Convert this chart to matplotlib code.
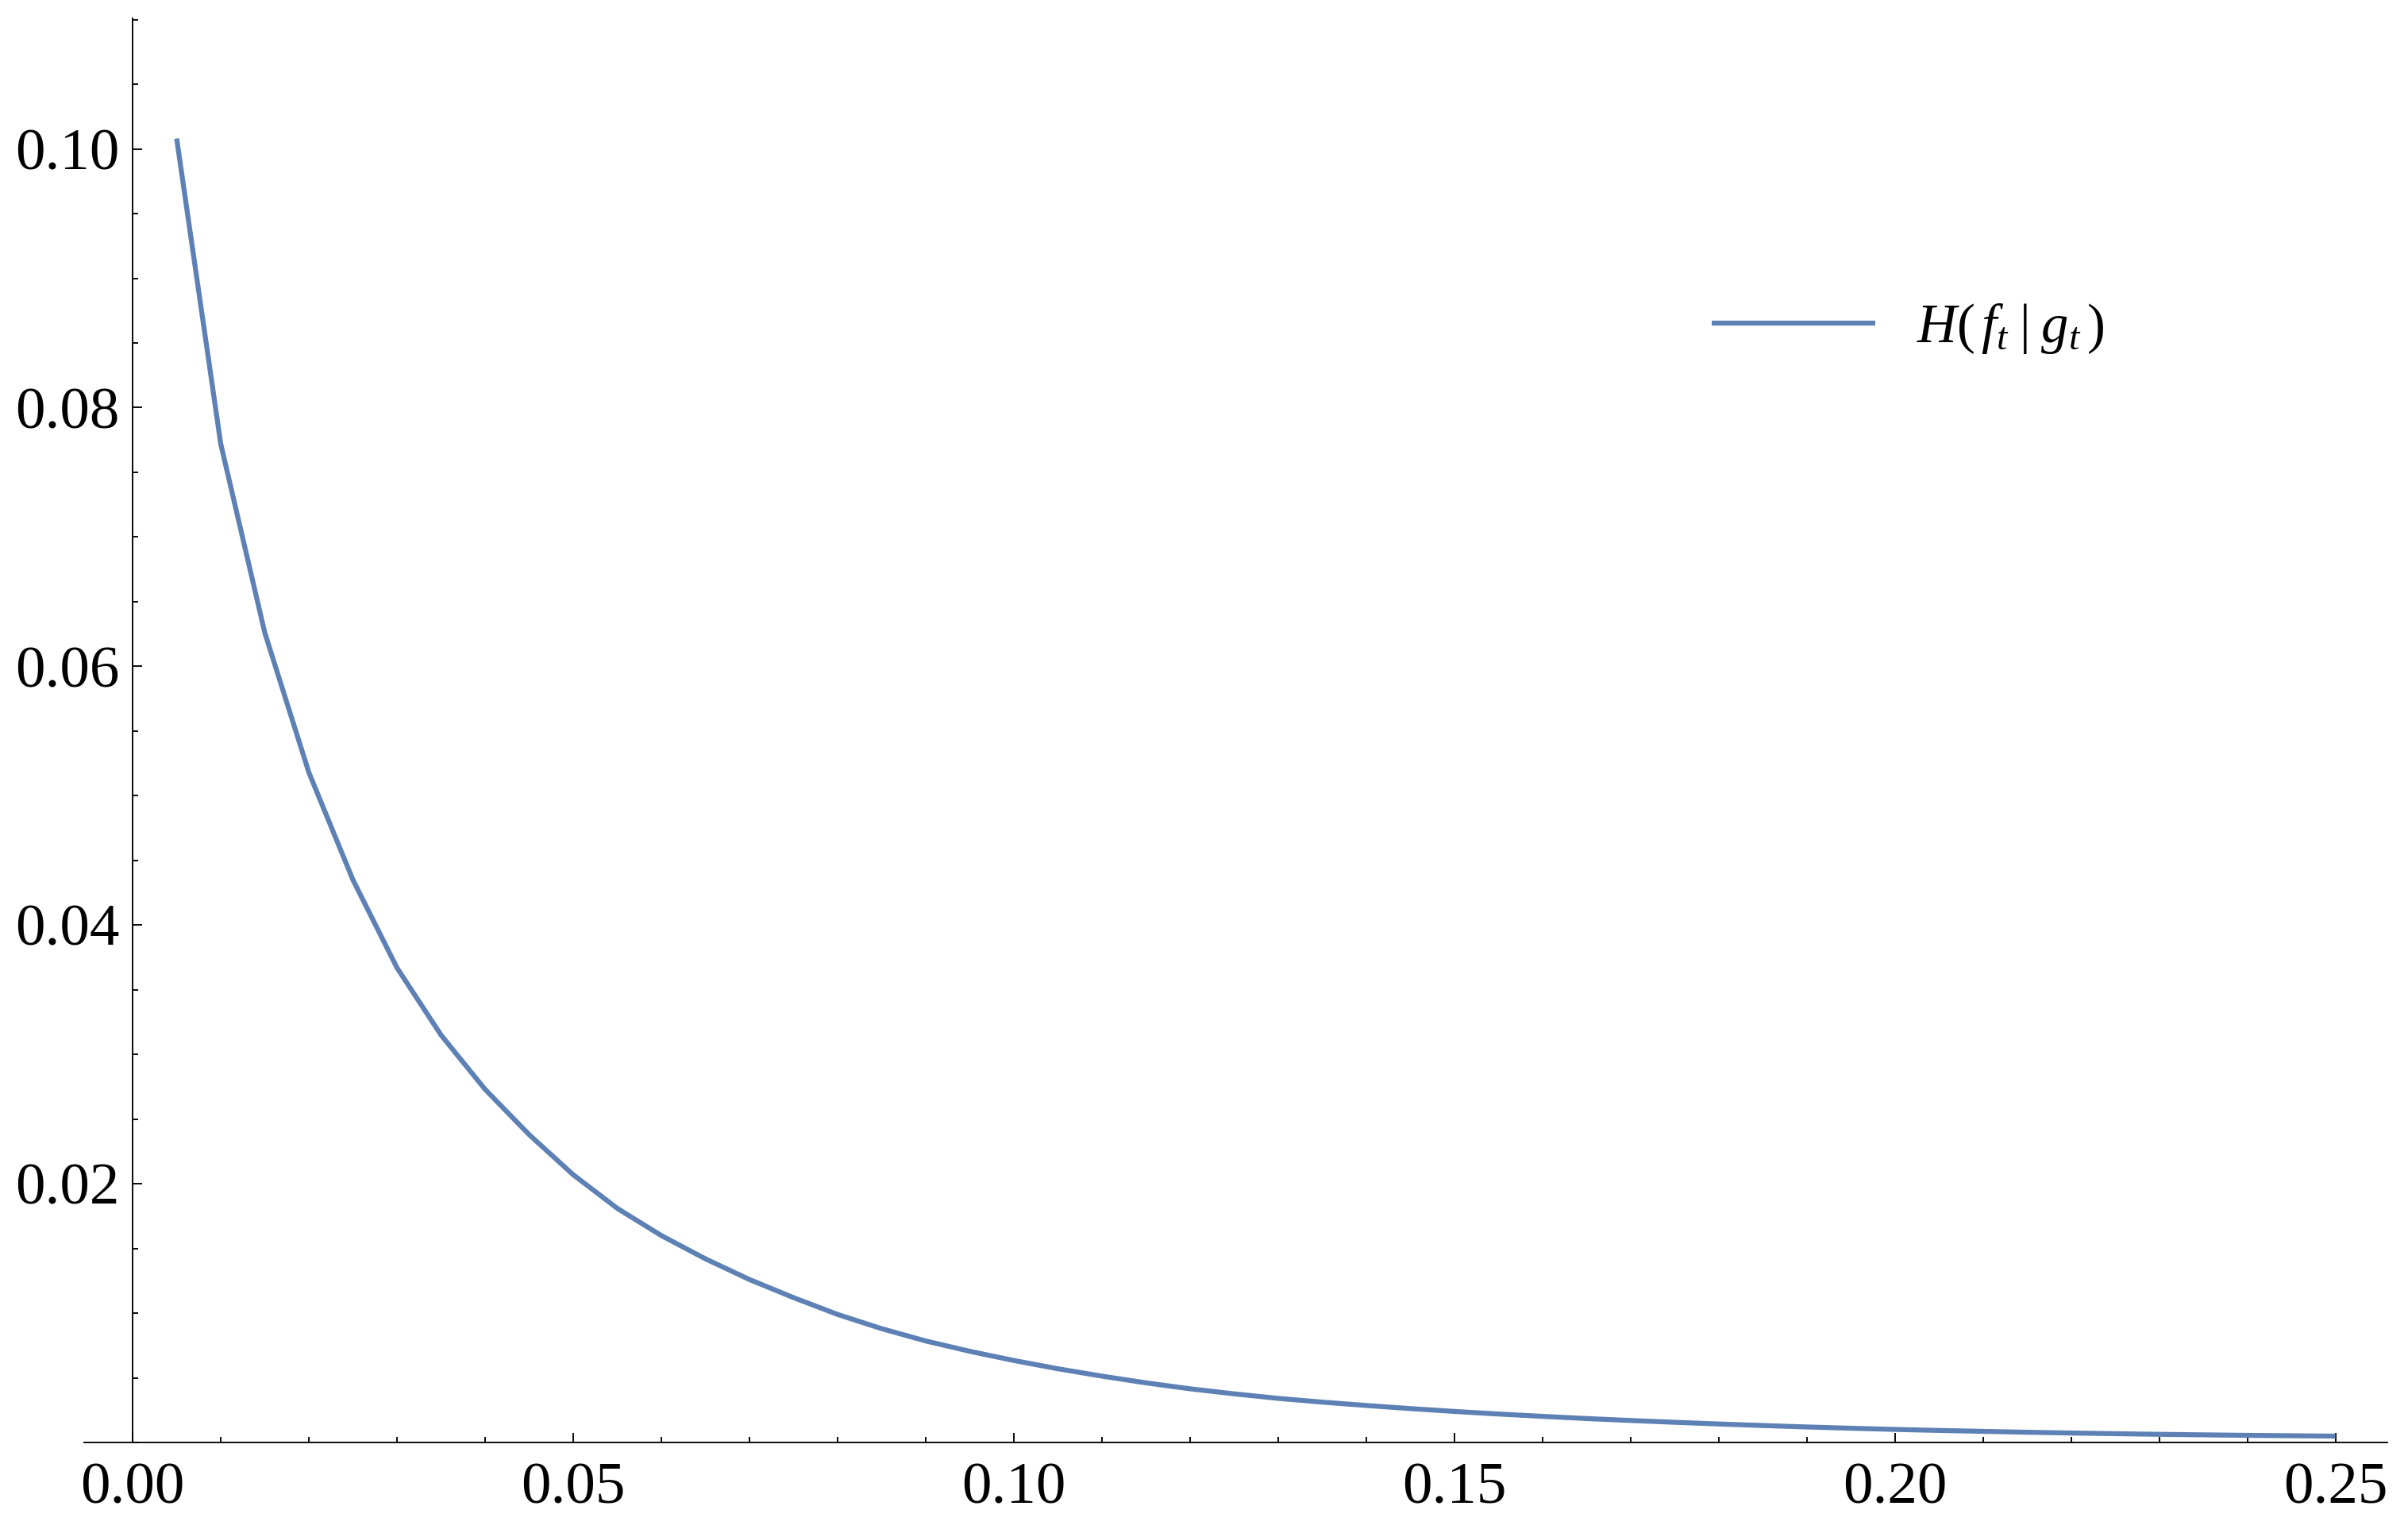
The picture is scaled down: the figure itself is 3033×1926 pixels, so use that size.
import matplotlib
matplotlib.use("Agg")
import matplotlib.pyplot as plt
from matplotlib.ticker import MultipleLocator, FixedLocator, FormatStrFormatter

# H(f_t | g_t) sampled every 0.005 in t
t = [0.005, 0.010, 0.015, 0.020, 0.025, 0.030, 0.035, 0.040, 0.045, 0.050,
     0.055, 0.060, 0.065, 0.070, 0.075, 0.080, 0.085, 0.090, 0.095, 0.100,
     0.105, 0.110, 0.115, 0.120, 0.125, 0.130, 0.135, 0.140, 0.145, 0.150,
     0.155, 0.160, 0.165, 0.170, 0.175, 0.180, 0.185, 0.190, 0.195, 0.200,
     0.205, 0.210, 0.215, 0.220, 0.225, 0.230, 0.235, 0.240, 0.245, 0.250]
h = [0.1008, 0.0772, 0.0626, 0.0518, 0.0435, 0.0367, 0.0315, 0.0273, 0.0238, 0.0207,
     0.0181, 0.0160, 0.0142, 0.0126, 0.0112, 0.0099, 0.0088, 0.00785, 0.00705, 0.00634,
     0.00570, 0.00513, 0.00461, 0.00415, 0.00376, 0.00341, 0.00312, 0.00286, 0.00262, 0.00240,
     0.00220, 0.00202, 0.00185, 0.00170, 0.00156, 0.00143, 0.00131, 0.00120, 0.00110, 0.00101,
     0.00093, 0.00086, 0.00079, 0.00073, 0.00068, 0.00063, 0.00059, 0.00055, 0.00052, 0.00049]

x_major = [0.00, 0.05, 0.10, 0.15, 0.20, 0.25]
y_major = [0.02, 0.04, 0.06, 0.08, 0.10]

plt.rcParams["font.family"] = ["Liberation Serif", "DejaVu Serif"]
plt.rcParams["mathtext.fontset"] = "custom"
plt.rcParams["mathtext.rm"] = "Liberation Serif"
plt.rcParams["mathtext.it"] = "Liberation Serif:italic"

fig = plt.figure(figsize=(3033 / 300, 1926 / 300), dpi=300)
ax = fig.add_axes([106 / 3033, 1 - 1817 / 1926, (3007 - 106) / 3033, (1817 - 23) / 1926])

ax.plot(t, h, color="#5E81B5", lw=1.5, solid_capstyle="butt", solid_joinstyle="miter",
        label=r"$H\left(\,f_t\;|\;g_t\,\right)$")

ax.set_xlim(-0.0055, 0.2559)
ax.set_ylim(0, 0.1101)

for s in ("top", "right"):
    ax.spines[s].set_visible(False)
ax.spines["left"].set_position(("data", 0))
ax.spines["bottom"].set_position(("data", 0))
for s in ("left", "bottom"):
    ax.spines[s].set_linewidth(0.45)

ax.xaxis.set_major_locator(FixedLocator(x_major))
ax.xaxis.set_minor_locator(MultipleLocator(0.01))
ax.yaxis.set_major_locator(FixedLocator(y_major))
ax.yaxis.set_minor_locator(MultipleLocator(0.005))
ax.xaxis.set_major_formatter(FormatStrFormatter("%.2f"))
ax.yaxis.set_major_formatter(FormatStrFormatter("%.2f"))

ax.tick_params(which="both", direction="in", width=0.45, color="black")
ax.tick_params(which="major", length=2.9, labelsize=18)
ax.tick_params(which="minor", length=1.7)
ax.tick_params(axis="x", which="major", pad=6)
ax.tick_params(axis="y", which="major", pad=4)

leg = ax.legend(loc="center left", bbox_to_anchor=(2156 / 3033, 1 - 414 / 1926),
                bbox_transform=fig.transFigure, frameon=False, fontsize=16.5,
                handlelength=3.0, handletextpad=0.75, borderpad=0, borderaxespad=0)

fig.savefig("out.png", dpi=300, facecolor="white")
